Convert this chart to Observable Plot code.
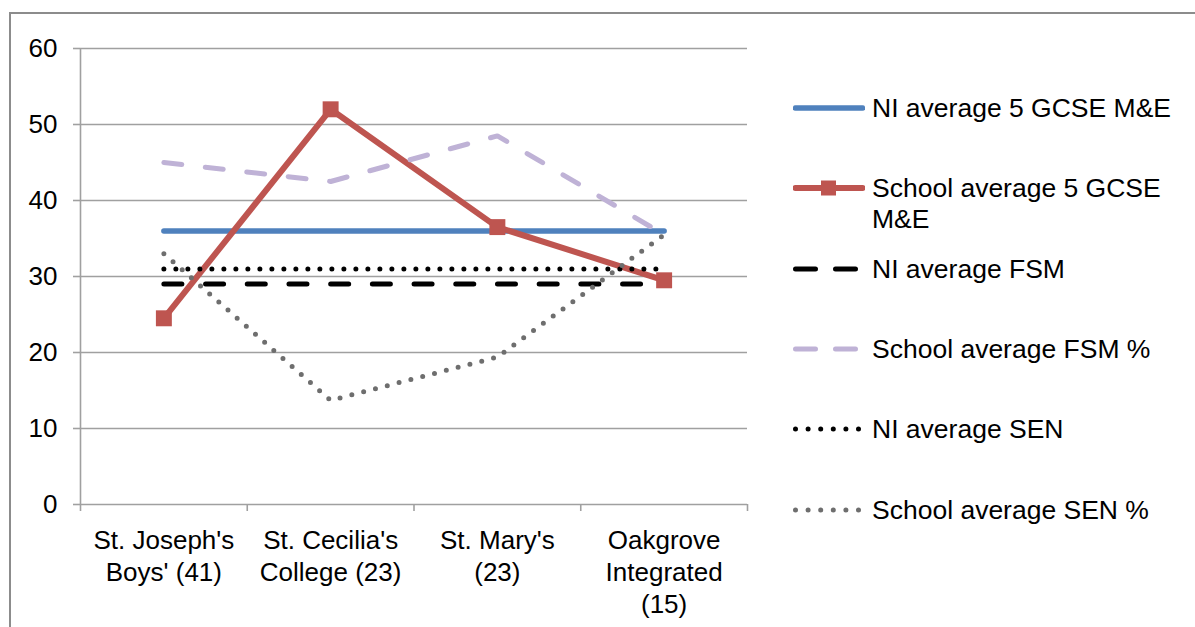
<!DOCTYPE html>
<html><head><meta charset="utf-8">
<script src="https://cdn.jsdelivr.net/npm/d3@7"></script>
<script src="https://cdn.jsdelivr.net/npm/@observablehq/plot@0.6"></script>
<style>
html,body{margin:0;padding:0;background:#fff;overflow:hidden;}
#wrap{position:relative;width:1195px;height:627px;font-family:"Liberation Sans",Arial,sans-serif;overflow:hidden;}
#frame{position:absolute;left:9px;top:12px;width:1400px;height:800px;border-left:2px solid #8c8c8c;border-top:2px solid #8c8c8c;}
#chart{position:absolute;left:0;top:0;}
.leg{position:absolute;left:793px;display:flex;align-items:flex-start;font-size:26.5px;line-height:31px;color:#000;white-space:nowrap;}
.leg svg{flex:none;margin-right:7px;}
</style></head>
<body>
<div id="wrap"><div id="frame"></div><div id="chart"></div><div id="legend"></div></div>
<script>
const categories = ["St. Joseph's\nBoys' (41)", "St. Cecilia's\nCollege (23)", "St. Mary's\n(23)", "Oakgrove\nIntegrated\n(15)"];
const niGcse = [36, 36, 36, 36];
const schoolGcse = [24.5, 52, 36.5, 29.5];
const niFsm = [29, 29, 29, 29];
const schoolFsm = [45, 42.5, 48.5, 35.5];
const niSen = [31, 31, 31, 31];
const schoolSen = [33, 13.7, 19.4, 35.5];
const yTicks = [0, 10, 20, 30, 40, 50, 60];
const seriesNames = ["NI average 5 GCSE M&E", "School average 5 GCSE\nM&E", "NI average FSM", "School average FSM %", "NI average SEN", "School average SEN %"];

const styles = [
  {values: niGcse, stroke: "#4F81BD", width: 5.5, dash: null},
  {values: schoolGcse, stroke: "#BE5550", width: 6, dash: null, marker: true},
  {values: niFsm, stroke: "#000000", width: 5, dash: "18,23.7"},
  {values: schoolFsm, stroke: "#BFB2D6", width: 5, dash: "18,23.7"},
  {values: niSen, stroke: "#000000", width: 5, dash: "0,12"},
  {values: schoolSen, stroke: "#6E6E6E", width: 5, dash: "0,12.2"}
];
const rows = vals => vals.map((v, i) => ({i: i + 0.5, v}));
const gridColor = "#A0A0A0";
const font = "'Liberation Sans', Arial, sans-serif";

const marks = [
  Plot.gridY(yTicks, {stroke: gridColor, strokeOpacity: 1, strokeWidth: 1.6}),
  Plot.axisY(yTicks, {tickSize: 7, tickPadding: 16, stroke: gridColor, strokeWidth: 1.6, fill: "#000", fontSize: 26, fontFamily: font, label: null}),
  Plot.axisX([0, 1, 2, 3, 4], {tickSize: 7, tickFormat: () => "", stroke: gridColor, strokeWidth: 1.6, label: null}),
  Plot.ruleX([0], {stroke: gridColor, strokeWidth: 1.6}),
  Plot.text(categories, {x: (d, i) => i + 0.5, y: () => 0, text: d => d, lineAnchor: "top", dy: 22, fontSize: 26, fontFamily: font, lineHeight: 1.23, fill: "#000"})
];
styles.forEach(s => {
  marks.push(Plot.line(rows(s.values), {x: "i", y: "v", stroke: s.stroke, strokeWidth: s.width, strokeDasharray: s.dash, strokeLinecap: "round", strokeLinejoin: "round"}));
  if (s.marker) marks.push(Plot.dot(rows(s.values), {x: "i", y: "v", symbol: "square", r: 9, fill: s.stroke, stroke: "none"}));
});

const chart = Plot.plot({
  width: 1195, height: 627,
  marginLeft: 80, marginRight: 448, marginTop: 48, marginBottom: 123,
  style: {fontFamily: font, background: "transparent", color: "#000"},
  x: {domain: [0, 4], label: null},
  y: {domain: [0, 60], label: null},
  marks
});
document.getElementById("chart").appendChild(chart);

// legend
const legendTops = [108, 188, 269, 349, 429, 510];
const legend = document.getElementById("legend");
styles.forEach((s, k) => {
  const div = document.createElement("div");
  div.className = "leg";
  div.style.top = (legendTops[k] - 15) + "px";
  const sw = d3.create("svg").attr("width", 72).attr("height", 30);
  const dash = s.dash === null ? null : s.dash.startsWith("0") ? "0,12.6" : "20,20";
  sw.append("line").attr("x1", 2.5).attr("x2", 69.5).attr("y1", 15).attr("y2", 15)
    .attr("stroke", s.stroke).attr("stroke-width", s.width).attr("stroke-linecap", "round").attr("stroke-dasharray", dash);
  if (s.marker) sw.append("rect").attr("x", 28).attr("y", 7.5).attr("width", 15).attr("height", 15).attr("fill", s.stroke);
  div.appendChild(sw.node());
  const t = document.createElement("div");
  t.innerHTML = seriesNames[k].replace("\n", "<br>").replace(/&(?!lt|gt|amp)/g, "&amp;");
  div.appendChild(t);
  legend.appendChild(div);
});
</script>
</body></html>
